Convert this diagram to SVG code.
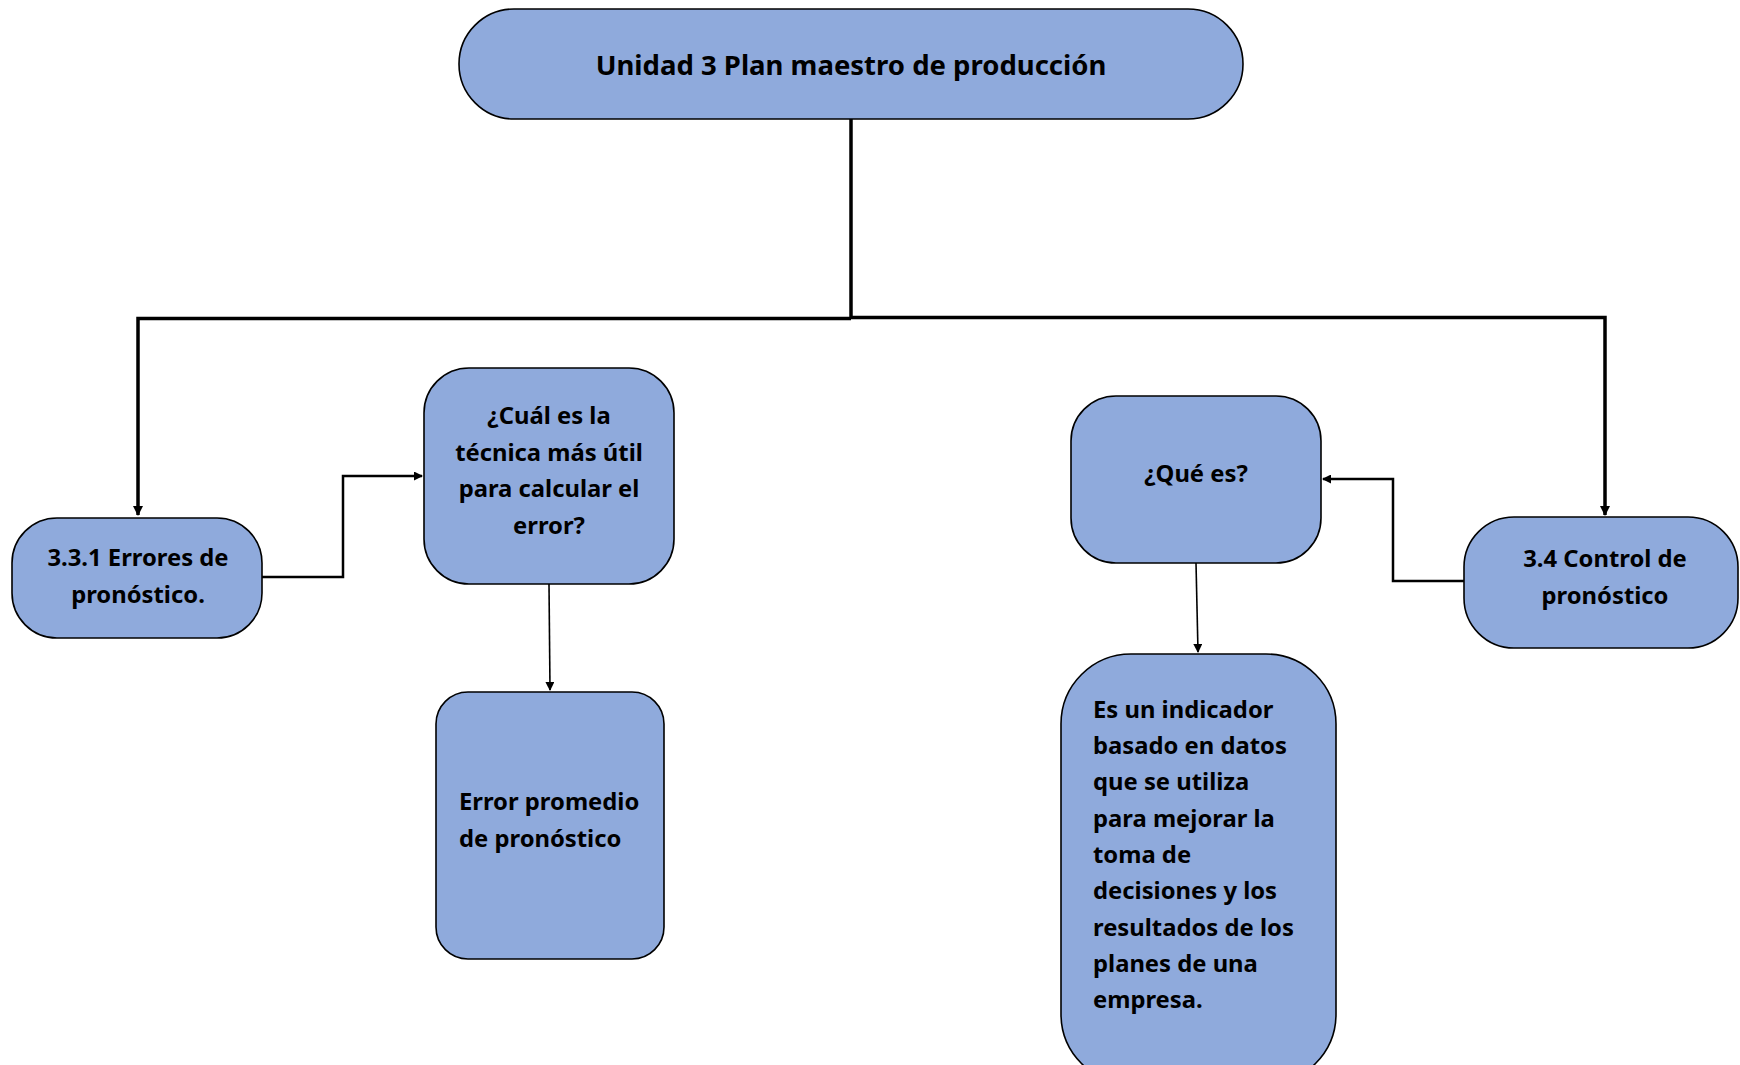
<svg xmlns="http://www.w3.org/2000/svg" width="1740" height="1065" viewBox="0 0 1740 1065">
<style>
.node{fill:#8FAADC;stroke:#000;stroke-width:1.6}
.t{font-family:"Noto Sans","Open Sans","Liberation Sans",sans-serif;font-weight:bold;fill:#000;font-size:23.8px}
.c{text-anchor:middle}
.title{font-size:27.5px}
.thick{fill:none;stroke:#000;stroke-width:3.5}
.thin{fill:none;stroke:#000;stroke-width:2.5}
.hair{fill:none;stroke:#000;stroke-width:1.6}
</style>
<defs>
<marker id="ah" markerWidth="9" markerHeight="9" refX="8" refY="4.5" orient="auto" markerUnits="userSpaceOnUse" viewBox="0 0 9 9"><path d="M0,0 L9,4.5 L0,9 z" fill="#000"/></marker>
<marker id="ah2" markerWidth="10" markerHeight="10" refX="9" refY="5" orient="auto" markerUnits="userSpaceOnUse" viewBox="0 0 10 10"><path d="M0,0 L10,5 L0,10 z" fill="#000"/></marker>
</defs>
<rect width="1740" height="1065" fill="#fff"/>
<g id="connectors">
<path class="thick" d="M851,119 V318"/>
<path class="thick" d="M851,318.5 H138 V515" marker-end="url(#ah2)"/>
<path class="thick" d="M851,317.5 H1605 V515" marker-end="url(#ah2)"/>
<path class="thin" d="M262,577 H343 V476 H422" marker-end="url(#ah)"/>
<path class="hair" d="M549,584 L550,690" marker-end="url(#ah)"/>
<path class="thin" d="M1464,581 H1393 V479 H1323" marker-end="url(#ah)"/>
<path class="hair" d="M1196,563 L1198,652" marker-end="url(#ah)"/>
</g>
<g id="n-title">
<rect class="node" x="459" y="9" width="784" height="110" rx="55" ry="55"/>
<text class="t c title" x="851" y="75">Unidad 3 Plan maestro de producción</text>
</g>
<g id="n-331">
<rect class="node" x="12" y="518" width="250" height="120" rx="45" ry="45"/>
<text class="t c" x="138" y="566">3.3.1 Errores de</text>
<text class="t c" x="138" y="603">pronóstico.</text>
</g>
<g id="n-cual">
<rect class="node" x="424" y="368" width="250" height="216" rx="45" ry="45"/>
<text class="t c" x="549" y="424">¿Cuál es la</text>
<text class="t c" x="549" y="461">técnica más útil</text>
<text class="t c" x="549" y="497">para calcular el</text>
<text class="t c" x="549" y="534">error?</text>
</g>
<g id="n-error">
<rect class="node" x="436" y="692" width="228" height="267" rx="32" ry="32"/>
<text class="t" x="459" y="810">Error promedio</text>
<text class="t" x="459" y="847">de pronóstico</text>
</g>
<g id="n-que">
<rect class="node" x="1071" y="396" width="250" height="167" rx="45" ry="45"/>
<text class="t c" x="1196" y="482">¿Qué es?</text>
</g>
<g id="n-34">
<rect class="node" x="1464" y="517" width="274" height="131" rx="50" ry="50"/>
<text class="t c" x="1605" y="567">3.4 Control de</text>
<text class="t c" x="1605" y="604">pronóstico</text>
</g>
<g id="n-es">
<rect class="node" x="1061" y="654" width="275" height="430" rx="70" ry="70"/>
<text class="t" x="1093" y="718">Es un indicador</text>
<text class="t" x="1093" y="754">basado en datos</text>
<text class="t" x="1093" y="790">que se utiliza</text>
<text class="t" x="1093" y="827">para mejorar la</text>
<text class="t" x="1093" y="863">toma de</text>
<text class="t" x="1093" y="899">decisiones y los</text>
<text class="t" x="1093" y="936">resultados de los</text>
<text class="t" x="1093" y="972">planes de una</text>
<text class="t" x="1093" y="1008">empresa.</text>
</g>
</svg>
